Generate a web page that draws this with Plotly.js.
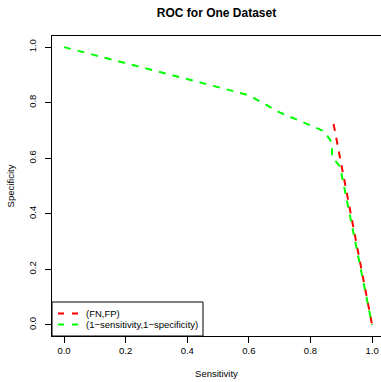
<!DOCTYPE html>
<html>
<head>
<meta charset="utf-8">
<script src="https://cdn.plot.ly/plotly-3.0.1.min.js"></script>
<style>html,body{margin:0;padding:0;background:#fff;}#chart{width:381px;height:382px;}</style>
</head>
<body>
<div id="chart"></div>
<script>
var redName = "(FN,FP)";
var greenName = "(1\u2212sensitivity,1\u2212specificity)";
var redX = [0.875, 1.0];
var redY = [0.723, 0.0];
var greenX = [0, 0.6, 0.7, 0.845, 0.87, 0.87, 0.896, 1.0];
var greenY = [1, 0.827, 0.765, 0.697, 0.655, 0.605, 0.57, 0.0];
var tickVals = [0, 0.2, 0.4, 0.6, 0.8, 1.0];
var tickText = ["0.0", "0.2", "0.4", "0.6", "0.8", "1.0"];

var font = "Liberation Sans, Arial, Helvetica, sans-serif";
var dash = "7px,7px";
var redColor = "#FF0000", greenColor = "#00FF00";
var traces = [
  {x: redX, y: redY, type: "scatter", mode: "lines", name: redName,
   line: {color: redColor, width: 2, dash: dash}},
  {x: greenX, y: greenY, type: "scatter", mode: "lines", name: greenName,
   line: {color: greenColor, width: 2, dash: dash}}
];

// manual legend box in paper coordinates (plot area: 329 x 300 px)
function px2x(p) { return (p - 52) / 329; }
function px2y(p) { return (336 - p) / 300; }
var legendEntries = [
  {name: redName, color: redColor, y: 313.5},
  {name: greenName, color: greenColor, y: 324.5}
];
var shapes = [{type: "rect", xref: "paper", yref: "paper", x0: 0, x1: px2x(203), y0: 0, y1: px2y(302),
               line: {color: "#000", width: 1}, fillcolor: "#fff", layer: "above"}];
var annotations = [];
legendEntries.forEach(function (e) {
  shapes.push({type: "line", xref: "paper", yref: "paper", x0: px2x(58), x1: px2x(78),
               y0: px2y(e.y), y1: px2y(e.y), line: {color: e.color, width: 2, dash: "6px,8px"}, layer: "above"});
  annotations.push({xref: "paper", yref: "paper", x: px2x(84), y: px2y(e.y), xanchor: "left", yanchor: "middle",
                    text: e.name, showarrow: false, font: {family: font, size: 9.5, color: "#000"}});
});

var layout = {
  width: 381, height: 382,
  margin: {l: 52, r: 0, t: 36, b: 46, pad: 0},
  paper_bgcolor: "#fff", plot_bgcolor: "#fff",
  font: {family: font, size: 9.5, color: "#000"},
  title: {text: "<b>ROC for One Dataset</b>", font: {family: font, size: 12, color: "#000"},
          x: 0.5, xref: "paper", xanchor: "center", y: 1 - 13/382, yref: "container", yanchor: "middle"},
  showlegend: false,
  shapes: shapes,
  annotations: annotations,
  xaxis: {range: [-0.039, 1.029], tickvals: tickVals, ticktext: tickText, ticks: "outside",
          ticklen: 6, tickcolor: "#000", showgrid: false, zeroline: false, showline: true,
          mirror: true, linecolor: "#000", linewidth: 1,
          title: {text: "Sensitivity", font: {family: font, size: 9.5}, standoff: 14}},
  yaxis: {range: [-0.04, 1.04], tickvals: tickVals, ticktext: tickText, ticks: "outside",
          ticklen: 6, tickcolor: "#000", tickangle: -90, showgrid: false, zeroline: false,
          showline: true, linecolor: "#000", linewidth: 1, ticklabelstandoff: 5,
          title: {text: "Specificity", font: {family: font, size: 9.5}, standoff: 10}}
};
Plotly.newPlot("chart", traces, layout, {displayModeBar: false, staticPlot: true});
</script>
</body>
</html>
